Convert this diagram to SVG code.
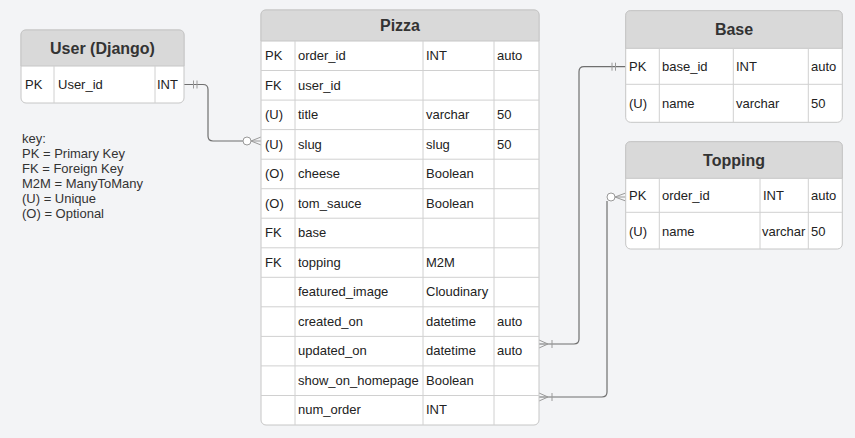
<svg xmlns="http://www.w3.org/2000/svg" width="855" height="438" viewBox="0 0 855 438">
<style>
text{font-family:"Liberation Sans",Arial,sans-serif;fill:#222}
.h{font-size:16px;font-weight:bold;fill:#333;text-anchor:middle}
.t{font-size:13px}
.k{font-size:13px;fill:#333}
.body{fill:#fff;stroke:#c6c6c6;stroke-width:1}
.head{fill:#d9d9d9;stroke:#c6c6c6;stroke-width:1}
.g{stroke:#d0d0d0;stroke-width:1;fill:none}
.c{stroke:#6f6f6f;stroke-width:1.2;fill:none}
.m{stroke:#9a9a9a;stroke-width:1;fill:none}
.o{stroke:#9a9a9a;stroke-width:1;fill:#fff}
</style>
<rect width="855" height="438" fill="#f3f4f6"/>

<g id="connectors">
  <path class="c" d="M184,84.5 H203 Q208,84.5 208,89.5 V136 Q208,141 213,141 H243"/>
  <path class="m" d="M193.5,80.5 V88.5 M197,80.5 V88.5"/>
  <path class="m" d="M251,141 L261,137 M251,141 L261,145 M251,141 H261"/>
  <circle class="o" cx="247" cy="141" r="4"/>

  <path class="c" d="M625.7,66.7 H584 Q579,66.7 579,71.7 V339 Q579,344 574,344 H539"/>
  <path class="m" d="M612,62.7 V70.7 M615.5,62.7 V70.7"/>
  <path class="m" d="M552,340 V348 M548,344 L539,340 M548,344 L539,348"/>

  <path class="c" d="M607,201 V392 Q607,397 602,397 H539"/>
  <path class="m" d="M552,393 V401 M548,397 L539,393 M548,397 L539,401"/>
  <path class="m" d="M615,197 L625.7,193 M615,197 L625.7,201 M615,197 H625.7"/>
  <circle class="o" cx="611" cy="197" r="4"/>
</g>

<g id="user">
  <rect class="body" x="21" y="30" width="163" height="73" rx="5"/>
  <path class="head" d="M21,66 V35 Q21,30 26,30 H179 Q184,30 184,35 V66 Z"/>
  <path class="g" d="M54,66 V103 M155,66 V103"/>
  <text class="h" x="102.5" y="54">User (Django)</text>
  <text class="t" x="25" y="89">PK</text>
  <text class="t" x="58" y="89">User_id</text>
  <text class="t" x="157" y="89">INT</text>
</g>

<g id="key">
  <text class="k" x="22" y="143">key:</text>
  <text class="k" x="22" y="158">PK = Primary Key</text>
  <text class="k" x="22" y="173">FK = Foreign Key</text>
  <text class="k" x="22" y="188">M2M = ManyToMany</text>
  <text class="k" x="22" y="203">(U) = Unique</text>
  <text class="k" x="22" y="218">(O) = Optional</text>
</g>

<g id="pizza">
  <rect class="body" x="261" y="10" width="278" height="415" rx="5"/>
  <path class="head" d="M261,41 V15 Q261,10 266,10 H534 Q539,10 539,15 V41 Z"/>
  <path class="g" d="M295,41 V425 M423,41 V425 M494,41 V425
    M261,70.5 H539 M261,100.1 H539 M261,129.6 H539 M261,159.2 H539 M261,188.7 H539 M261,218.2 H539
    M261,247.8 H539 M261,277.3 H539 M261,306.8 H539 M261,336.4 H539 M261,365.9 H539 M261,395.5 H539"/>
  <text class="h" x="400" y="31">Pizza</text>
  <g class="t">
    <text class="t" x="265" y="60">PK</text><text class="t" x="298" y="60">order_id</text><text class="t" x="426" y="60">INT</text><text class="t" x="497" y="60">auto</text>
    <text class="t" x="265" y="89.5">FK</text><text class="t" x="298" y="89.5">user_id</text>
    <text class="t" x="265" y="119">(U)</text><text class="t" x="298" y="119">title</text><text class="t" x="426" y="119">varchar</text><text class="t" x="497" y="119">50</text>
    <text class="t" x="265" y="148.5">(U)</text><text class="t" x="298" y="148.5">slug</text><text class="t" x="426" y="148.5">slug</text><text class="t" x="497" y="148.5">50</text>
    <text class="t" x="265" y="178">(O)</text><text class="t" x="298" y="178">cheese</text><text class="t" x="426" y="178">Boolean</text>
    <text class="t" x="265" y="207.5">(O)</text><text class="t" x="298" y="207.5">tom_sauce</text><text class="t" x="426" y="207.5">Boolean</text>
    <text class="t" x="265" y="237">FK</text><text class="t" x="298" y="237">base</text>
    <text class="t" x="265" y="266.5">FK</text><text class="t" x="298" y="266.5">topping</text><text class="t" x="426" y="266.5">M2M</text>
    <text class="t" x="298" y="296">featured_image</text><text class="t" x="426" y="296">Cloudinary</text>
    <text class="t" x="298" y="325.5">created_on</text><text class="t" x="426" y="325.5">datetime</text><text class="t" x="497" y="325.5">auto</text>
    <text class="t" x="298" y="355">updated_on</text><text class="t" x="426" y="355">datetime</text><text class="t" x="497" y="355">auto</text>
    <text class="t" x="298" y="384.5">show_on_homepage</text><text class="t" x="426" y="384.5">Boolean</text>
    <text class="t" x="298" y="414">num_order</text><text class="t" x="426" y="414">INT</text>
  </g>
</g>

<g id="base">
  <rect class="body" x="625.7" y="10.7" width="216.6" height="111.6" rx="5"/>
  <path class="head" d="M625.7,48.3 V15.7 Q625.7,10.7 630.7,10.7 H837.3 Q842.3,10.7 842.3,15.7 V48.3 Z"/>
  <path class="g" d="M659.3,48.3 V122.3 M733.3,48.3 V122.3 M808.3,48.3 V122.3 M625.7,84.3 H842.3"/>
  <text class="h" x="734" y="35">Base</text>
  <text class="t" x="629" y="71">PK</text><text class="t" x="662" y="71">base_id</text><text class="t" x="736" y="71">INT</text><text class="t" x="811" y="71">auto</text>
  <text class="t" x="629" y="108">(U)</text><text class="t" x="662" y="108">name</text><text class="t" x="736" y="108">varchar</text><text class="t" x="811" y="108">50</text>
</g>

<g id="topping">
  <rect class="body" x="625.7" y="141.7" width="216.6" height="107.3" rx="5"/>
  <path class="head" d="M625.7,178.3 V146.7 Q625.7,141.7 630.7,141.7 H837.3 Q842.3,141.7 842.3,146.7 V178.3 Z"/>
  <path class="g" d="M659.3,178.3 V249 M760,178.3 V249 M808.3,178.3 V249 M625.7,212.3 H842.3"/>
  <text class="h" x="734" y="166">Topping</text>
  <text class="t" x="629" y="200">PK</text><text class="t" x="662" y="200">order_id</text><text class="t" x="763" y="200">INT</text><text class="t" x="811" y="200">auto</text>
  <text class="t" x="629" y="235.5">(U)</text><text class="t" x="662" y="235.5">name</text><text class="t" x="762" y="235.5">varchar</text><text class="t" x="811" y="235.5">50</text>
</g>
</svg>
